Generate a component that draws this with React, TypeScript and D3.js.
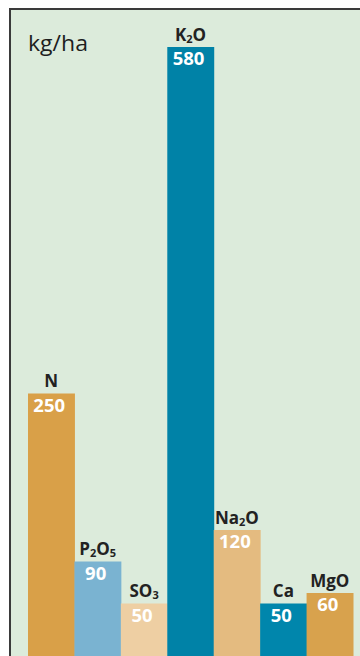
import React from "react";
import * as d3 from "d3";

// Nutrient removal, kg per hectare
const nutrients: string[] = ["N", "P2O5", "SO3", "K2O", "Na2O", "Ca", "MgO"];
const amounts: number[] = [250, 90, 50, 580, 120, 50, 60];
const barColors: string[] = [
  "#d9a048",
  "#7ab3d1",
  "#eecfa3",
  "#0082a7",
  "#e4bb80",
  "#0086ac",
  "#d8a24d",
];
// Chemical formulas split into [text, isSubscript] runs
const formulaParts: [string, boolean][][] = [
  [["N", false]],
  [["P", false], ["2", true], ["O", false], ["5", true]],
  [["SO", false], ["3", true]],
  [["K", false], ["2", true], ["O", false]],
  [["Na", false], ["2", true], ["O", false]],
  [["Ca", false]],
  [["MgO", false]],
];
const unitLabel = "kg/ha";

const W = 360;
const H = 656;
const FONT = "'Open Sans', 'Noto Sans', sans-serif";
const SUB_SHIFT = 2;

export default function App() {
  const x = d3
    .scaleBand<string>()
    .domain(nutrients)
    .range([28, 353])
    .padding(0);
  const y = d3
    .scaleLinear()
    .domain([0, d3.max(amounts) as number])
    .range([656, 47]);

  return (
    <svg
      width={W}
      height={H}
      viewBox={`0 0 ${W} ${H}`}
      style={{ position: "absolute", left: 0, top: 0, display: "block" }}
    >
      <rect x={0} y={0} width={W} height={H} fill="#ffffff" />
      <rect
        x={10}
        y={9}
        width={W + 20}
        height={H + 20}
        fill="#dcebdb"
        stroke="#3a3a3a"
        strokeWidth={2}
      />
      <text
        x={28}
        y={51}
        fontFamily={FONT}
        fontSize={22}
        fill="#1e1e1e"
        textLength={60}
        lengthAdjust="spacingAndGlyphs"
      >
        {unitLabel}
      </text>
      {nutrients.map((n, i) => {
        const bx = x(n) as number;
        const bw = x.bandwidth();
        const top = y(amounts[i]);
        const cx = bx + bw / 2;
        return (
          <g key={n}>
            <rect
              x={bx}
              y={top}
              width={bw + 0.5}
              height={y(0) - top + 10}
              fill={barColors[i]}
            />
            <text
              x={cx}
              y={top - 6.5}
              textAnchor="middle"
              fontFamily={FONT}
              fontWeight={700}
              fontSize={17}
              fill="#222222"
            >
              {formulaParts[i].map(([t, sub], k) =>
                sub ? (
                  <tspan key={k} fontSize={11} dy={SUB_SHIFT}>
                    {t}
                  </tspan>
                ) : (
                  <tspan
                    key={k}
                    dy={k > 0 && formulaParts[i][k - 1][1] ? -SUB_SHIFT : 0}
                  >
                    {t}
                  </tspan>
                )
              )}
            </text>
            <text
              x={cx - 2}
              y={top + 18}
              textAnchor="middle"
              fontFamily={FONT}
              fontWeight={700}
              fontSize={18.5}
              fill="#ffffff"
            >
              {amounts[i]}
            </text>
          </g>
        );
      })}
    </svg>
  );
}
